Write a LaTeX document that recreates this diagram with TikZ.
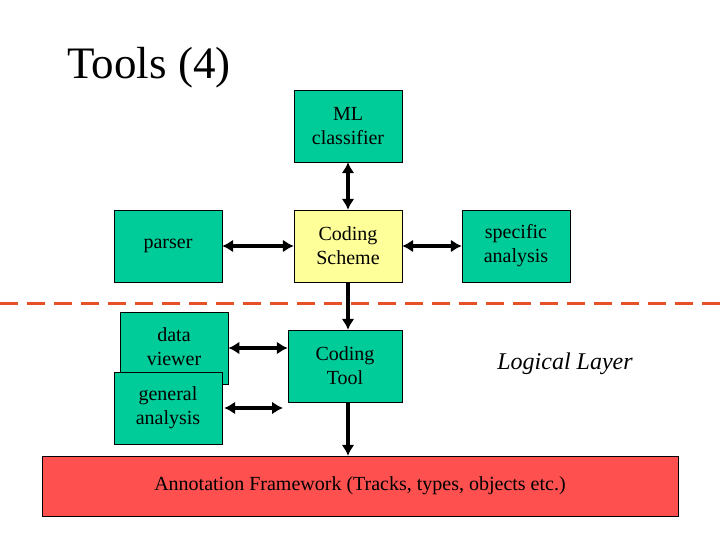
\documentclass[tikz,border=0pt]{standalone}
\usepackage{fontspec}
\setmainfont{Liberation Serif}
\usetikzlibrary{arrows.meta}
\definecolor{boxgreen}{RGB}{0,204,153}
\definecolor{boxyellow}{RGB}{255,255,153}
\definecolor{framered}{RGB}{255,80,80}
\definecolor{dashred}{RGB}{230,80,40}
\tikzset{
  tool/.style={draw=black, fill=boxgreen, minimum width=108pt, minimum height=72pt, align=center, font=\fontsize{20}{24}\selectfont, inner sep=0pt},
  link/.style={line width=4pt, {Latex[length=11pt,width=13pt]}-{Latex[length=11pt,width=13pt]}},
  down/.style={line width=4pt, -{Latex[length=11pt,width=13pt]}}
}
\begin{document}
\begin{tikzpicture}[x=1pt,y=1pt,yscale=-1]
\useasboundingbox (0,0) rectangle (720,540);

%Title
\node [anchor=west, font=\fontsize{45}{50}\selectfont] (title) at (64,68) {Tools (4)};

%Separator
\draw [dashred, line width=3pt, dash pattern=on 18pt off 9pt] (0,303) -- (720,303);

%Boxes
\node [tool] (ml) at (348,126) {ML\\classifier};
\node [tool] (parser) at (168,246) {parser};
\node [tool, fill=boxyellow] (scheme) at (348,246) {Coding\\Scheme};
\node [tool] (specific) at (516,246) {specific\\analysis};
\node [tool, anchor=north west, text height=14pt] (viewer) at (120,312) {};
\node [font=\fontsize{20}{24}\selectfont, align=center] (viewertext) at (174,347) {data\\viewer};
\node [tool] (general) at (168,408) {general\\analysis};
\node [tool, minimum width=114pt] (codingtool) at (345,366) {Coding\\Tool};
\node [font=\fontsize{24}{28}\selectfont\itshape] (logical) at (565,364) {Logical Layer};
\node [draw=black, fill=framered, minimum width=636pt, minimum height=60pt, font=\fontsize{20}{24}\selectfont] (framework) at (360,486) {Annotation Framework (Tracks, types, objects etc.)};

%Connectors
\coordinate (ga) at (283,408);
\draw [link] (ml.south -| scheme.north) -- (scheme.north);
\draw [link] (parser) -- (scheme);
\draw [link] (scheme) -- (specific);
\draw [down] (scheme.south) -- (codingtool.north -| scheme.south);
\draw [link] (viewer.east |- codingtool.west) ++(0,-18) coordinate (dv) -- (dv -| codingtool.west);
\draw [link] (general.east) ++(2,0) -- (ga);
\draw [down] (scheme.south |- codingtool.south) -- (scheme.south |- framework.north);
\end{tikzpicture}
\end{document}
